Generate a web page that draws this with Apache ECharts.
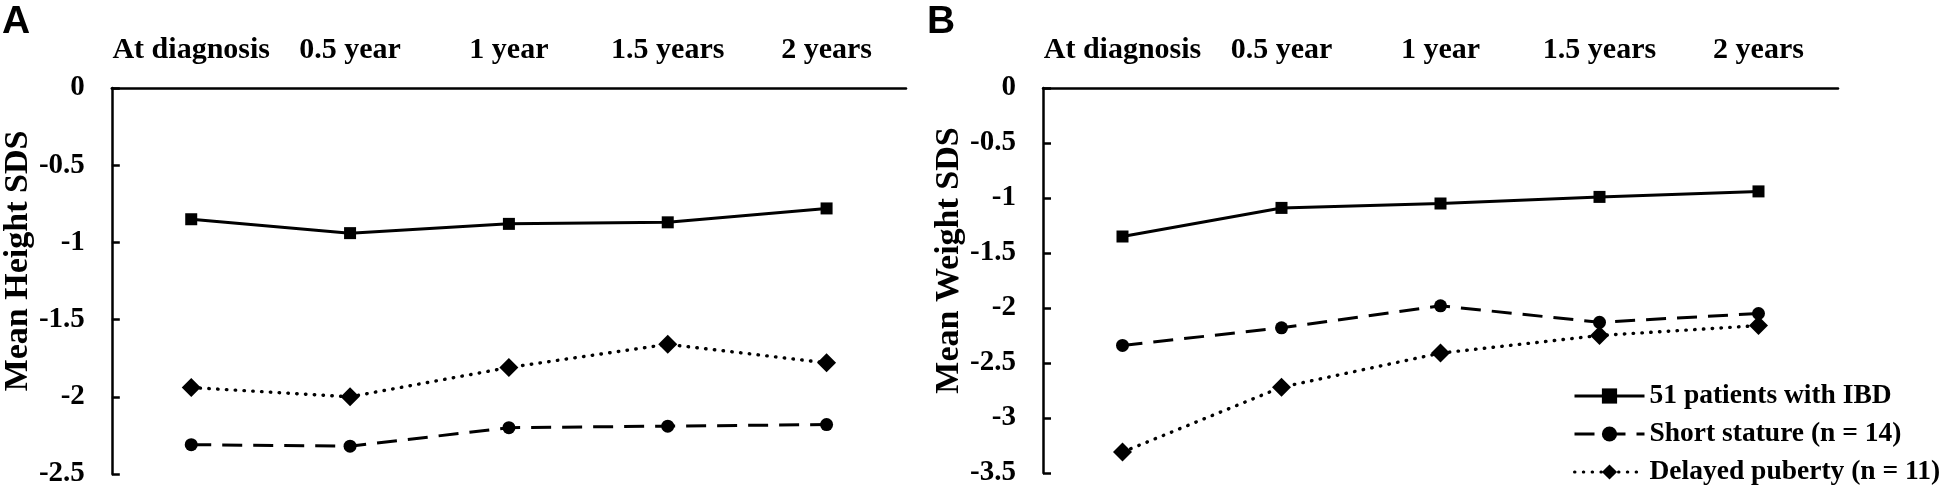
<!DOCTYPE html>
<html>
<head>
<meta charset="utf-8">
<script src="https://cdn.jsdelivr.net/npm/echarts@6/dist/echarts.min.js"></script>
<style>
html,body{margin:0;padding:0;background:#fff;}
#chart{width:1946px;height:500px;}
</style>
</head>
<body>
<div id="chart"></div>
<script>
var categories = ['At diagnosis', '0.5 year', '1 year', '1.5 years', '2 years'];
var yTicksHeight = { min: -2.5, max: 0, interval: 0.5 };
var yTicksWeight = { min: -3.5, max: 0, interval: 0.5 };
var seriesNames = ['51 patients with IBD', 'Short stature (n = 14)', 'Delayed puberty (n = 11)'];

var heightIBD = [-0.85, -0.94, -0.88, -0.87, -0.78];
var heightShort = [-2.31, -2.32, -2.20, -2.19, -2.18];
var heightDelayed = [-1.94, -2.00, -1.81, -1.66, -1.78];

var weightIBD = [-1.35, -1.09, -1.05, -0.99, -0.94];
var weightShort = [-2.34, -2.18, -1.98, -2.13, -2.05];
var weightDelayed = [-3.31, -2.72, -2.41, -2.25, -2.16];

var FONT = 'Liberation Serif';
var INK = '#000';

var styles = [
  { symbol: 'rect', symbolSize: 12, lineType: 'solid', cap: 'butt' },
  { symbol: 'circle', symbolSize: 13, lineType: [20, 11], cap: 'butt' },
  { symbol: 'diamond', symbolSize: 19, lineType: [0.5, 8.3], cap: 'round' }
];

function mkSeries(idx, data, axisIndex) {
  var s = styles[idx];
  return {
    type: 'line',
    name: seriesNames[idx],
    xAxisIndex: axisIndex,
    yAxisIndex: axisIndex,
    data: data,
    symbol: s.symbol,
    symbolSize: s.symbolSize,
    showSymbol: true,
    animation: false,
    itemStyle: { color: INK },
    lineStyle: { color: INK, width: idx === 2 ? 3.4 : 3, type: s.lineType, cap: s.cap },
    z: 3 - idx
  };
}

function mkXAxis(gi) {
  return {
    type: 'category',
    gridIndex: gi,
    position: 'top',
    data: categories,
    boundaryGap: true,
    axisLine: { show: true, onZero: false, lineStyle: { color: INK, width: 2.5 } },
    axisTick: { show: false },
    axisLabel: { interval: 0, color: INK, fontFamily: FONT, fontWeight: 'bold', fontSize: 30, margin: 23 },
    splitLine: { show: false }
  };
}

function mkYAxis(gi, t, name) {
  return {
    type: 'value',
    gridIndex: gi,
    min: t.min, max: t.max, interval: t.interval,
    name: name,
    nameLocation: 'middle',
    nameGap: 74,
    nameTextStyle: { color: INK, fontFamily: FONT, fontWeight: 'bold', fontSize: 34, padding: [0, 0, 0, 40] },
    axisLine: { show: true, onZero: false, lineStyle: { color: INK, width: 2.5 } },
    axisTick: { show: true, inside: true, length: 8, lineStyle: { color: INK, width: 2.5 } },
    axisLabel: { color: INK, fontFamily: FONT, fontWeight: 'bold', fontSize: 29, margin: 27, padding: [6, 0, 0, 0] },
    splitLine: { show: false }
  };
}

var chart = echarts.init(document.getElementById('chart'), null, { renderer: 'canvas' });
chart.setOption({
  backgroundColor: '#fff',
  animation: false,
  title: [
    { text: 'A', left: 2, top: 3, padding: 0, textStyle: { color: INK, fontFamily: 'Liberation Sans', fontWeight: 'bold', fontSize: 39 } },
    { text: 'B', left: 927, top: 3, padding: 0, textStyle: { color: INK, fontFamily: 'Liberation Sans', fontWeight: 'bold', fontSize: 39 } }
  ],
  legend: {
    orient: 'vertical',
    left: 1573,
    top: 382,
    padding: 0,
    itemWidth: 70,
    itemHeight: 19,
    itemGap: 10,
    data: seriesNames,
    lineStyle: { width: 3 },
    textStyle: { color: INK, fontFamily: FONT, fontWeight: 'bold', fontSize: 27.5 }
  },
  grid: [
    { left: 110, top: 88, width: 796, height: 386, containLabel: false },
    { left: 1043, top: 88, width: 795, height: 385, containLabel: false }
  ],
  xAxis: [mkXAxis(0), mkXAxis(1)],
  yAxis: [mkYAxis(0, yTicksHeight, 'Mean Height SDS'), mkYAxis(1, yTicksWeight, 'Mean Weight SDS')],
  series: [
    mkSeries(0, heightIBD, 0),
    mkSeries(1, heightShort, 0),
    mkSeries(2, heightDelayed, 0),
    mkSeries(0, weightIBD, 1),
    mkSeries(1, weightShort, 1),
    mkSeries(2, weightDelayed, 1)
  ]
});
</script>
</body>
</html>
